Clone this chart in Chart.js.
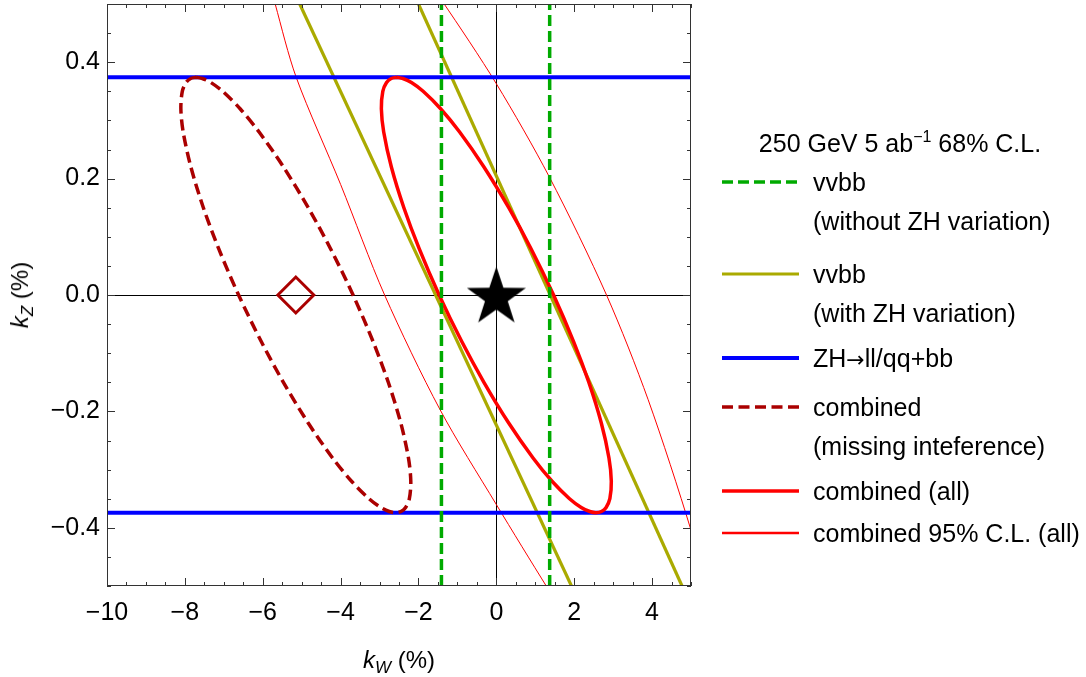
<!DOCTYPE html>
<html>
<head>
<meta charset="utf-8">
<title>kW - kZ constraints</title>
<script src="https://cdn.jsdelivr.net/npm/chart.js@4.4.1/dist/chart.umd.min.js"></script>
<style>
  html, body { margin: 0; padding: 0; background: #fff; }
  #wrap { position: relative; width: 1086px; height: 677px; font-family: "Liberation Sans", Arial, sans-serif; color: #000; }
  #chart { position: absolute; left: 0; top: 0; }
  .axis-title { position: absolute; font-size: 24px; line-height: 1; white-space: nowrap; }
  .axis-title sub { font-size: 17px; line-height: 0; vertical-align: -5px; }
  #xTitle { left: 399px; top: 660px; transform: translate(-50%, -50%); }
  #yTitle { left: 20px; top: 295px; transform: translate(-50%, -50%) rotate(-90deg); }
  #legend { position: absolute; left: 0; top: 0; font-size: 25px; }
  .lg-title { position: absolute; left: 900px; top: 143px; transform: translate(-50%, -50%); white-space: nowrap; line-height: 1; }
  .lg-title sup { font-size: 16px; line-height: 0; vertical-align: 10px; }
  .lg-row { position: absolute; left: 722px; height: 38px; }
  .lg-row svg { position: absolute; left: 0; top: 0; }
  .lg-text { position: absolute; left: 91px; top: 0; line-height: 38.5px; white-space: nowrap; }
  .arrow { font-family: "DejaVu Sans", sans-serif; font-size: 22px; }
</style>
</head>
<body>
<div id="wrap">
  <canvas id="chart" width="1086" height="677"></canvas>
  <div class="axis-title" id="xTitle"><i>k</i><sub><i>W</i></sub> (%)</div>
  <div class="axis-title" id="yTitle"><i>k</i><sub><i>Z</i></sub> (%)</div>
  <div id="legend"></div>
</div>
<script>
// axis ticks
const kWTicks = [-10, -8, -6, -4, -2, 0, 2, 4];
const kWTickLabels = ['−10', '−8', '−6', '−4', '−2', '0', '2', '4'];
const kZTicks = [-0.4, -0.2, 0, 0.2, 0.4];
const kZTickLabels = ['−0.4', '−0.2', '0.0', '0.2', '0.4'];

// markers
const smPoint = [0, 0];            // star
const noIntCentre = [-5.15, 0];    // open diamond

// vvbb without ZH variation: vertical bounds on kW
const vvbbNoZH_kW = [-1.41, 1.37];
// ZH->ll/qq+bb: horizontal bounds on kZ
const zh_kZ = [-0.374, 0.374];

// vvbb with ZH variation: two slanted bands (kW, kZ at plot edges)
const vvbbZH1_kW = [-5.05, 1.93];
const vvbbZH1_kZ = [0.5, -0.5];
const vvbbZH2_kW = [-2.0, 4.77];
const vvbbZH2_kZ = [0.5, -0.5];

// combined (all), 68% C.L.
const comb68_kW = [-2.56, -2.70, -2.82, -2.916, -2.953, -2.893, -2.696, -2.375, -1.984, -1.47,
  -0.888, -0.319, 0.318, 0.943, 1.431, 1.88, 2.18, 2.40, 2.56, 2.70, 2.82, 2.916, 2.953, 2.893,
  2.696, 2.375, 1.984, 1.47, 0.888, 0.319, -0.318, -0.943, -1.431, -1.88, -2.18, -2.40, -2.56];
const comb68_kZ = [0.374, 0.372, 0.365, 0.35, 0.32, 0.28, 0.22, 0.15, 0.08, 0,
  -0.08, -0.15, -0.22, -0.28, -0.32, -0.35, -0.365, -0.372, -0.374, -0.372, -0.365, -0.35, -0.32, -0.28,
  -0.22, -0.15, -0.08, 0, 0.08, 0.15, 0.22, 0.28, 0.32, 0.35, 0.365, 0.372, 0.374];

// combined, missing interference (68% C.L.)
const noInt_kW = [-7.71, -7.85, -7.97, -8.066, -8.103, -8.043, -7.846, -7.525, -7.134, -6.62,
  -6.038, -5.469, -4.832, -4.207, -3.719, -3.27, -2.97, -2.75, -2.59, -2.45, -2.33, -2.234, -2.197, -2.257,
  -2.454, -2.775, -3.166, -3.68, -4.262, -4.831, -5.468, -6.093, -6.581, -7.03, -7.33, -7.55, -7.71];
const noInt_kZ = [0.374, 0.372, 0.365, 0.35, 0.32, 0.28, 0.22, 0.15, 0.08, 0,
  -0.08, -0.15, -0.22, -0.28, -0.32, -0.35, -0.365, -0.372, -0.374, -0.372, -0.365, -0.35, -0.32, -0.28,
  -0.22, -0.15, -0.08, 0, 0.08, 0.15, 0.22, 0.28, 0.32, 0.35, 0.365, 0.372, 0.374];

// combined (all), 95% C.L. -- only its two long sides cross the frame
const comb95Left_kW = [-5.9, -5.68, -5.14, -4.0, -2.87, -1.446, 0, 1.31, 2.0];
const comb95Left_kZ = [0.56, 0.5, 0.374, 0.19, 0, -0.197, -0.36, -0.503, -0.575];
const comb95Right_kW = [-2.1, -1.40, 0, 1.36, 2.83, 3.9, 5.0, 5.5];
const comb95Right_kZ = [0.57, 0.506, 0.363, 0.203, 0, -0.18, -0.404, -0.53];

const legendTitle = '250 GeV 5 ab<sup>−1</sup> 68% C.L.';
const legendKeys = ['vvbbNoZH', 'vvbbZH', 'zh', 'noInt', 'comb68', 'comb95'];
const legendTexts = [
  ['vvbb', '(without ZH variation)'],
  ['vvbb', '(with ZH variation)'],
  ['ZH<span class="arrow">→</span>ll/qq+bb'],
  ['combined', '(missing inteference)'],
  ['combined (all)'],
  ['combined 95% C.L. (all)']
];
const legendRowY = [182, 274, 358, 407, 491, 533];

const styles = {
  vvbbNoZH: { color: '#00aa00', width: 3.5, dash: [11, 5] },
  vvbbZH:   { color: '#aaaa00', width: 3.2, dash: [] },
  zh:       { color: '#0000ff', width: 4, dash: [] },
  noInt:    { color: '#aa0000', width: 3.5, dash: [11, 5.5] },
  comb68:   { color: '#ff0000', width: 3.5, dash: [] },
  comb95:   { color: '#ff0000', width: 1, dash: [], legendWidth: 2.5 }
};

const pts = (xs, ys) => xs.map((x, i) => ({ x: x, y: ys[i] }));

function curve(key, xs, ys, order, tension) {
  const s = styles[key];
  return {
    label: key,
    data: pts(xs, ys),
    borderColor: s.color,
    borderWidth: s.width,
    borderDash: s.dash,
    pointRadius: 0,
    fill: false,
    tension: tension || 0,
    order: order
  };
}

// filled five-pointed star used as the SM marker
function makeStar(R, r) {
  const w = Math.ceil(2 * R * Math.sin(2 * Math.PI / 5));
  const h = Math.ceil(R * (1 + Math.cos(Math.PI / 5)));
  const c = document.createElement('canvas');
  c.width = w; c.height = h;
  const g = c.getContext('2d');
  g.beginPath();
  for (let i = 0; i < 10; i++) {
    const rad = i % 2 ? r : R;
    const a = -Math.PI / 2 + i * Math.PI / 5;
    g.lineTo(w / 2 + rad * Math.cos(a), R + rad * Math.sin(a));
  }
  g.closePath();
  g.fillStyle = '#000';
  g.fill();
  return c;
}

const frameColor = '#333';
const framePlugin = {
  id: 'frame',
  beforeDatasetsDraw(chart) {
    const { ctx, chartArea: a, scales: { x, y } } = chart;
    const x0 = Math.round(x.getPixelForValue(0)) + 0.5;
    const y0 = Math.round(y.getPixelForValue(0)) + 0.5;
    ctx.save();
    ctx.strokeStyle = '#000';
    ctx.lineWidth = 1;
    ctx.beginPath();
    ctx.moveTo(x0, a.top); ctx.lineTo(x0, a.bottom);
    ctx.moveTo(a.left, y0); ctx.lineTo(a.right, y0);
    ctx.stroke();
    ctx.restore();
  },
  afterDatasetsDraw(chart) {
    const { ctx, chartArea: a, scales: { x, y } } = chart;
    ctx.save();
    ctx.strokeStyle = frameColor;
    ctx.lineWidth = 1;
    ctx.strokeRect(a.left + 0.5, a.top + 0.5, a.right - a.left - 1, a.bottom - a.top - 1);
    ctx.beginPath();
    // x ticks, bottom and top, pointing inward
    for (let k = 0; k <= 30; k++) {
      const v = x.min + k * 0.5;
      const len = kWTicks.some(t => Math.abs(t - v) < 1e-9) ? 8 : 4;
      const px = Math.round(x.getPixelForValue(v)) + 0.5;
      ctx.moveTo(px, a.bottom); ctx.lineTo(px, a.bottom - len);
      ctx.moveTo(px, a.top); ctx.lineTo(px, a.top + len);
    }
    // y ticks, left and right
    for (let k = 0; k <= 20; k++) {
      const v = y.min + k * 0.05;
      const len = kZTicks.some(t => Math.abs(t - v) < 1e-9) ? 8 : 4;
      const py = Math.round(y.getPixelForValue(v)) + 0.5;
      ctx.moveTo(a.left, py); ctx.lineTo(a.left + len, py);
      ctx.moveTo(a.right, py); ctx.lineTo(a.right - len, py);
    }
    ctx.stroke();
    ctx.restore();
  }
};

const tickFont = { family: '"Liberation Sans", Arial, sans-serif', size: 25 };

const datasets = [
  {
    label: 'SM',
    data: pts([smPoint[0]], [smPoint[1]]),
    showLine: false,
    pointStyle: makeStar(31, 12),
    pointRadius: 30,
    order: 0
  },
  {
    label: 'no interference centre',
    data: pts([noIntCentre[0]], [noIntCentre[1]]),
    showLine: false,
    pointStyle: 'rectRot',
    pointRadius: 18,
    pointBorderWidth: 3,
    pointBorderColor: styles.noInt.color,
    pointBackgroundColor: 'rgba(255,255,255,0)',
    order: 1
  },
  curve('vvbbNoZH', [vvbbNoZH_kW[0], vvbbNoZH_kW[0]], [-0.5, 0.5], 2),
  curve('vvbbNoZH', [vvbbNoZH_kW[1], vvbbNoZH_kW[1]], [-0.5, 0.5], 2),
  curve('comb68', comb68_kW, comb68_kZ, 3, 0.3),
  curve('noInt', noInt_kW, noInt_kZ, 4, 0.3),
  curve('zh', [-10, 5], [zh_kZ[0], zh_kZ[0]], 5),
  curve('zh', [-10, 5], [zh_kZ[1], zh_kZ[1]], 5),
  curve('vvbbZH', vvbbZH1_kW, vvbbZH1_kZ, 6),
  curve('vvbbZH', vvbbZH2_kW, vvbbZH2_kZ, 6),
  curve('comb95', comb95Left_kW, comb95Left_kZ, 7, 0.3),
  curve('comb95', comb95Right_kW, comb95Right_kZ, 7, 0.3)
];

new Chart(document.getElementById('chart'), {
  type: 'line',
  data: { datasets: datasets },
  options: {
    responsive: false,
    animation: false,
    events: [],
    layout: { autoPadding: false, padding: { left: 0, right: 395, top: 4, bottom: 0 } },
    elements: { line: { capBezierPoints: false } },
    plugins: { legend: { display: false }, tooltip: { enabled: false } },
    scales: {
      x: {
        type: 'linear',
        min: -10,
        max: 5,
        grid: { display: false, drawTicks: false },
        border: { display: false },
        afterBuildTicks: s => { s.ticks = kWTicks.map(v => ({ value: v })); },
        afterFit: s => { s.height = 91; s.paddingLeft = 0; s.paddingRight = 0; s.paddingTop = 0; s.paddingBottom = 0; },
        ticks: {
          autoSkip: false,
          maxRotation: 0,
          padding: 12,
          color: '#000',
          font: tickFont,
          callback: (v, i) => kWTickLabels[i]
        }
      },
      y: {
        type: 'linear',
        min: -0.5,
        max: 0.5,
        grid: { display: false, drawTicks: false },
        border: { display: false },
        afterBuildTicks: s => { s.ticks = kZTicks.map(v => ({ value: v })); },
        afterFit: s => { s.width = 107; s.paddingLeft = 0; s.paddingRight = 0; s.paddingTop = 0; s.paddingBottom = 0; },
        ticks: {
          autoSkip: false,
          padding: 7,
          color: '#000',
          font: tickFont,
          callback: (v, i) => kZTickLabels[i]
        }
      }
    }
  },
  plugins: [framePlugin]
});

// legend (HTML, styles shared with the datasets)
const legendBox = document.getElementById('legend');
const title = document.createElement('div');
title.className = 'lg-title';
title.innerHTML = legendTitle;
legendBox.appendChild(title);
legendKeys.forEach((key, i) => {
  const s = styles[key];
  const row = document.createElement('div');
  row.className = 'lg-row';
  row.style.top = (legendRowY[i] - 19) + 'px';
  row.innerHTML =
    '<svg width="77" height="38"><line x1="0" y1="19" x2="77" y2="19" stroke="' + s.color +
    '" stroke-width="' + (s.legendWidth || s.width) + '" stroke-dasharray="' + (s.dash.join(' ') || 'none') + '"/></svg>' +
    '<div class="lg-text">' + legendTexts[i].join('<br>') + '</div>';
  legendBox.appendChild(row);
});
</script>
</body>
</html>
